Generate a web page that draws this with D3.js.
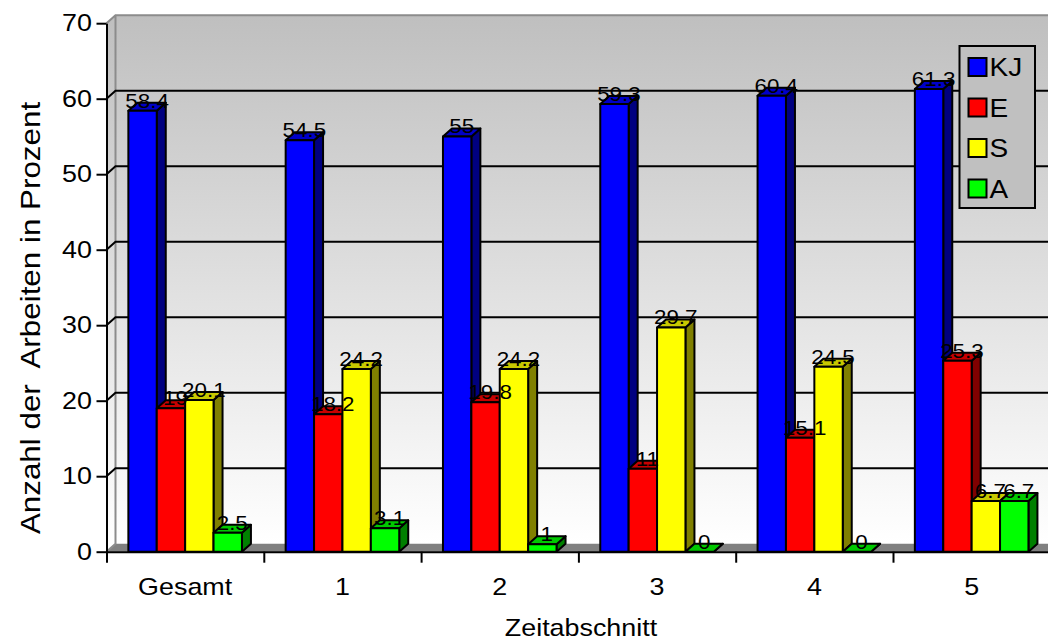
<!DOCTYPE html>
<html>
<head>
<meta charset="utf-8">
<script src="https://cdn.jsdelivr.net/npm/d3@7"></script>
<style>
  html, body { margin: 0; padding: 0; background: #ffffff; }
  svg { display: block; font-family: "Liberation Sans", Arial, Helvetica, sans-serif; }
</style>
</head>
<body>
<svg id="chart" width="1048" height="641"></svg>
<script>
// ---- data ----
const categories = ["Gesamt", "1", "2", "3", "4", "5"];
const seriesNames = ["KJ", "E", "S", "A"];
const valuesKJ = [58.4, 54.5, 55, 59.3, 60.4, 61.3];
const valuesE  = [19, 18.2, 19.8, 11, 15.1, 25.3];
const valuesS  = [20.1, 24.2, 24.2, 29.7, 24.5, 6.7];
const valuesA  = [2.5, 3.1, 1, 0, 0, 6.7];
const yTickValues = [0, 10, 20, 30, 40, 50, 60, 70];
const yTitle = "Anzahl der  Arbeiten in Prozent";
const xTitle = "Zeitabschnitt";

// ---- colours: front, top and side faces per series ----
const frontColors = ["#0000ff", "#ff0000", "#ffff00", "#00ff00"];
const topColors   = ["#0000c8", "#c80000", "#c8c800", "#00c800"];
const sideColors  = ["#000080", "#800000", "#808000", "#008000"];

const seriesValues = [valuesKJ, valuesE, valuesS, valuesA];

// ---- layout ----
const W = 1048, H = 641;
const plotLeft = 106.5, plotRight = 1050.3;
const plotBottom = 551.7, plotTop = 23.2;
const DX = 9, DY = -8;          // depth offset of the 3D box
const SX = 1.12;                // horizontal text stretch

const svg = d3.select("#chart");

const y = d3.scaleLinear().domain([0, 70]).range([plotBottom, plotTop]);
const x = d3.scaleBand().domain(categories).range([plotLeft, plotRight]).paddingInner(0).paddingOuter(0);
const xs = d3.scaleBand().domain(seriesNames).range([0, x.bandwidth()]).paddingInner(0).paddingOuter(0.77);
const xEdges = d3.scaleLinear().domain([0, categories.length]).range([plotLeft, plotRight]);

const defs = svg.append("defs");
const grad = defs.append("linearGradient")
  .attr("id", "wallGrad").attr("gradientUnits", "userSpaceOnUse")
  .attr("x1", 0).attr("y1", plotTop + DY).attr("x2", 0).attr("y2", plotBottom + DY);
grad.append("stop").attr("offset", 0).attr("stop-color", "#bfbfbf");
grad.append("stop").attr("offset", 1).attr("stop-color", "#ffffff");

const clip = defs.append("clipPath").attr("id", "frameClip");
clip.append("rect").attr("x", 0).attr("y", 0).attr("width", W).attr("height", H);

const g = svg.append("g").attr("clip-path", "url(#frameClip)");

// back wall
g.append("rect")
  .attr("x", plotLeft + DX).attr("y", plotTop + DY)
  .attr("width", plotRight - plotLeft + 20).attr("height", plotBottom - plotTop)
  .attr("fill", "url(#wallGrad)");

// side wall
g.append("polygon")
  .attr("points", [[plotLeft, plotTop], [plotLeft + DX, plotTop + DY], [plotLeft + DX, plotBottom + DY], [plotLeft, plotBottom]].join(" "))
  .attr("fill", "url(#wallGrad)");

// floor
g.append("polygon")
  .attr("points", [[plotLeft, plotBottom], [plotLeft + DX, plotBottom + DY], [plotRight + DX + 20, plotBottom + DY], [plotRight + 20, plotBottom]].join(" "))
  .attr("fill", "#808080");

// wall edges
g.append("path")
  .attr("d", `M${plotLeft},${plotTop} L${plotLeft + DX},${plotTop + DY} L${W + 10},${plotTop + DY}
              M${plotLeft + DX},${plotTop + DY} L${plotLeft + DX},${plotBottom + DY} L${plotLeft},${plotBottom}`)
  .attr("fill", "none").attr("stroke", "#8c8c8c").attr("stroke-width", 2);

// gridlines (side wall diagonal + back wall)
g.selectAll("path.grid")
  .data(yTickValues.filter(v => v > 0 && v < 70))
  .join("path")
  .attr("class", "grid")
  .attr("d", v => `M${plotLeft},${y(v)} L${plotLeft + DX},${y(v) + DY} L${W + 10},${y(v) + DY}`)
  .attr("fill", "none").attr("stroke", "#000").attr("stroke-width", 2);

// bars
const bars = [];
categories.forEach((c, ci) => {
  seriesNames.forEach((s, si) => {
    bars.push({ cat: c, series: s, si, value: seriesValues[si][ci] });
  });
});

const barW = xs.bandwidth();
const barG = g.selectAll("g.bar").data(bars).join("g").attr("class", "bar");

barG.each(function (d) {
  const el = d3.select(this);
  const x0 = x(d.cat) + xs(d.series);
  const x1 = x0 + barW;
  const yv = y(d.value);
  const yb = y(0);
  // side face
  el.append("polygon")
    .attr("points", [[x1, yv], [x1 + DX, yv + DY], [x1 + DX, yb + DY], [x1, yb]].join(" "))
    .attr("fill", sideColors[d.si]);
  // top face
  el.append("polygon")
    .attr("points", [[x0, yv], [x0 + DX, yv + DY], [x1 + DX, yv + DY], [x1, yv]].join(" "))
    .attr("fill", topColors[d.si]);
  // front face
  if (d.value > 0) {
    el.append("rect")
      .attr("x", x0).attr("y", yv).attr("width", barW).attr("height", yb - yv)
      .attr("fill", frontColors[d.si]);
  }
  el.selectAll("polygon, rect")
    .attr("stroke", "#000").attr("stroke-width", 2).attr("stroke-linejoin", "round");
});

// value labels
g.selectAll("text.val").data(bars).join("text")
  .attr("class", "val")
  .attr("transform", d => `translate(${x(d.cat) + xs(d.series) + barW / 2 + DX / 2},${y(d.value) - 3}) scale(${SX},1)`)
  .attr("text-anchor", "middle")
  .attr("font-size", 20)
  .attr("fill", "#000")
  .text(d => String(d.value));

// y axis
const yAxis = d3.axisLeft(y).tickValues(yTickValues).tickSize(10).tickSizeOuter(0).tickPadding(3);
const yg = svg.append("g").attr("transform", `translate(${plotLeft},0)`).call(yAxis);
yg.select(".domain").attr("stroke", "#000").attr("stroke-width", 2);
yg.selectAll(".tick line").attr("stroke", "#000").attr("stroke-width", 2);
yg.selectAll(".tick text")
  .attr("font-size", 24).attr("font-family", null).attr("fill", "#000")
  .attr("transform", `scale(${SX},1)`);

// x axis: boundary ticks
const xEdgeAxis = d3.axisBottom(xEdges).tickValues(d3.range(categories.length + 1)).tickSize(11).tickSizeOuter(0).tickFormat("");
const xg = svg.append("g").attr("transform", `translate(0,${plotBottom})`).call(xEdgeAxis);
xg.select(".domain").attr("stroke", "#000").attr("stroke-width", 2);
xg.selectAll(".tick line").attr("stroke", "#000").attr("stroke-width", 2);

// x axis: category labels
const xLabelAxis = d3.axisBottom(x).tickSize(0).tickPadding(26);
const xl = svg.append("g").attr("transform", `translate(0,${plotBottom})`).call(xLabelAxis);
xl.select(".domain").remove();
xl.selectAll(".tick text")
  .attr("font-size", 24).attr("font-family", null).attr("fill", "#000")
  .attr("transform", `scale(${SX},1)`);

// axis titles
svg.append("text")
  .attr("transform", `translate(581,635.5) scale(${SX},1)`)
  .attr("text-anchor", "middle").attr("font-size", 24).attr("fill", "#000")
  .text(xTitle);

svg.append("text")
  .attr("transform", `translate(40,318) rotate(-90) scale(1.12,1)`)
  .attr("text-anchor", "middle").attr("font-size", 28).attr("fill", "#000")
  .style("white-space", "pre")
  .text(yTitle);

// legend
const legend = svg.append("g").attr("transform", "translate(959.5,46)");
legend.append("rect").attr("width", 75.5).attr("height", 162)
  .attr("fill", "#c0c0c0").attr("stroke", "#000").attr("stroke-width", 2);
const li = legend.selectAll("g.item").data(seriesNames).join("g")
  .attr("class", "item")
  .attr("transform", (d, i) => `translate(9,${21 + i * 40.5})`);
li.append("rect").attr("x", 0).attr("y", -9).attr("width", 18).attr("height", 18)
  .attr("fill", (d, i) => frontColors[i]).attr("stroke", "#000").attr("stroke-width", 2);
li.append("text")
  .attr("transform", `translate(21,0) scale(${SX},1)`)
  .attr("dy", "0.36em").attr("font-size", 25).attr("fill", "#000")
  .text(d => d);
</script>
</body>
</html>
